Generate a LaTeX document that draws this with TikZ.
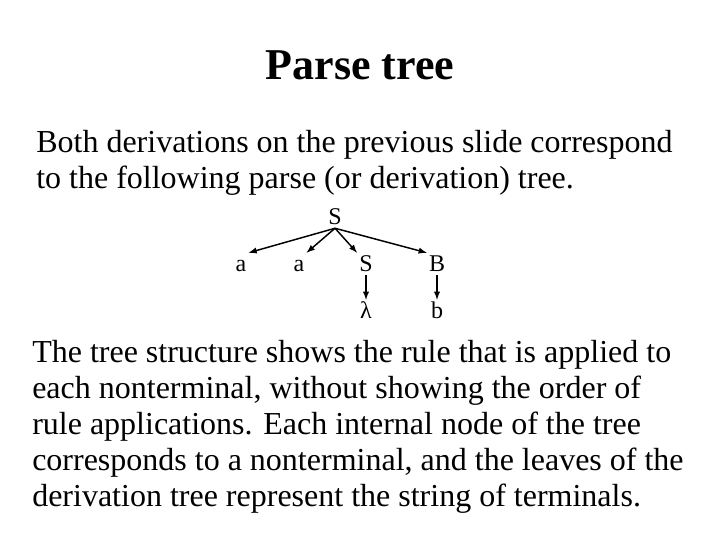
\documentclass[tikz,border=0pt]{standalone}
\usepackage{fontspec}
\setmainfont{Liberation Serif}

\tikzset{
  sym/.style={font=\fontsize{18}{21}\selectfont, inner sep=1.5pt,
    text height=12.5pt, text depth=1pt},
  edge/.style={-latex, line width=1.1pt},
  slide text/.style={anchor=base west, align=left, inner sep=0pt,
    font=\fontsize{24}{27}\selectfont}
}

\begin{document}
\begin{tikzpicture}[x=0.75pt, y=-0.75pt]
  \useasboundingbox (0,0) rectangle (720,540);

  % Title
  \node[font=\bfseries\fontsize{33}{40}\selectfont, anchor=base] (title) at (360,79) {Parse tree};

  % Intro (base = last line)
  \node[slide text] (intro) at (36,188) {Both derivations on the previous slide correspond\\
    to the following parse (or derivation) tree.};

  % The tree
  \node[sym] (root) at (335,217) {S};
  \node[sym] (a1) at (241,264) {a};
  \node[sym] (a2) at (299,264) {a};
  \node[sym] (s2) at (366,264) {S};
  \node[sym] (bb) at (437,264) {B};
  \node[sym] (lam) at (366,311) {λ};
  \node[sym] (b) at (437,311) {b};

  \draw[edge] (root.south) -- (a1.north east);
  \draw[edge] (root.south) -- (a2.north east);
  \draw[edge] (root.south) -- (s2.north west);
  \draw[edge] (root.south) -- (bb.north west);
  \draw[edge] (s2) -- (lam);
  \draw[edge] (bb) -- (b);

  % Explanation (base = last line)
  \node[slide text] (expl) at (32,506) {The tree structure shows the rule that is applied to\\
    each nonterminal, without showing the order of\\
    rule applications.  Each internal node of the tree\\
    corresponds to a nonterminal, and the leaves of the\\
    derivation tree represent the string of terminals.};
\end{tikzpicture}
\end{document}
